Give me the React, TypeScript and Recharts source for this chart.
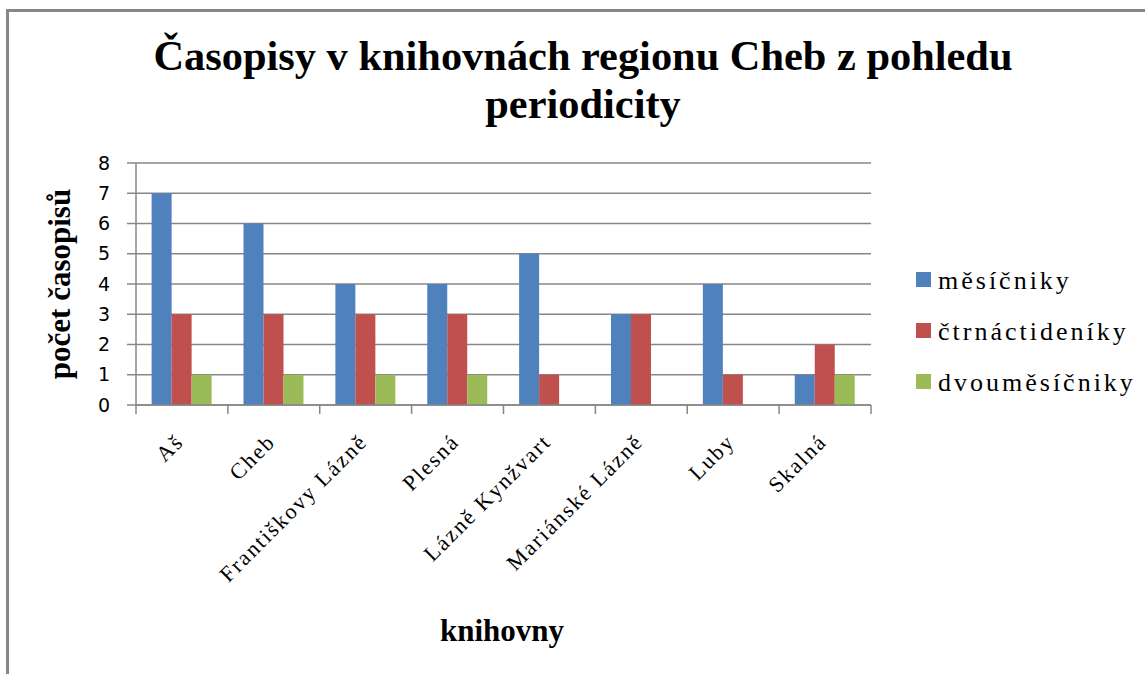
import React from 'react';
import { BarChart, Bar, XAxis, YAxis, CartesianGrid, Legend } from 'recharts';

const libraries = ['Aš', 'Cheb', 'Františkovy Lázně', 'Plesná', 'Lázně Kynžvart', 'Mariánské Lázně', 'Luby', 'Skalná'];
const mesicniky = [7, 6, 4, 4, 5, 3, 4, 1];
const ctrnactideniky = [3, 3, 3, 3, 1, 3, 1, 2];
const dvoumesicniky = [1, 1, 1, 1, 0, 0, 0, 1];
const yTicks = [0, 1, 2, 3, 4, 5, 6, 7, 8];

const SERIES = [
  { key: 'mesicniky', name: 'měsíčniky', color: '#4F81BD' },
  { key: 'ctrnactideniky', name: 'čtrnáctideníky', color: '#C0504D' },
  { key: 'dvoumesicniky', name: 'dvouměsíčniky', color: '#9BBB59' },
];

const data = libraries.map((name, i) => ({
  name,
  mesicniky: mesicniky[i],
  ctrnactideniky: ctrnactideniky[i],
  dvoumesicniky: dvoumesicniky[i],
}));

const GRAY = '#878787';
const SERIF = 'Liberation Serif, Times New Roman, serif';

// category label, rotated; also draws the tick marks on the category borders
const LibraryTick = (props: any) => {
  const { x, y, payload, index } = props;
  const half = payload.offset || 0;
  const ax = x + 3;
  const ay = y + 38;
  return (
    <g>
      <line x1={x - half} y1={y} x2={x - half} y2={y + 9} stroke={GRAY} strokeWidth={1.5} />
      {index === libraries.length - 1 && (
        <line x1={x + half} y1={y} x2={x + half} y2={y + 9} stroke={GRAY} strokeWidth={1.5} />
      )}
      <text
        x={ax}
        y={ay}
        transform={`rotate(-45, ${ax}, ${ay})`}
        textAnchor="end"
        fontFamily={SERIF}
        fontSize={22}
        letterSpacing={2}
        fill="#000"
      >
        {payload.value}
      </text>
    </g>
  );
};

const LegendContent = (props: any) => {
  const items = SERIES.map((s) => (props.payload || []).find((p: any) => p.value === s.name) || { value: s.name, color: s.color });
  return (
    <svg width={229} height={153}>
      {items.map((entry: any, i: number) => (
        <g key={entry.value}>
          <rect x={0} y={i * 51 + 18} width={15} height={15} fill={entry.color} />
          <text x={22} y={i * 51 + 35} fontFamily={SERIF} fontSize={26} letterSpacing={3} fill="#000">
            {entry.value}
          </text>
        </g>
      ))}
    </svg>
  );
};

export default function App() {
  return (
    <div style={{ position: 'absolute', left: 0, top: 0, width: 1145, height: 674, overflow: 'hidden', background: '#fff' }}>
      <div style={{ position: 'absolute', left: 6, top: 9, width: 1300, height: 900, border: `3px solid ${GRAY}` }} />
      <div style={{ position: 'absolute', left: 0, top: 0 }}>
        <BarChart
          width={1145}
          height={674}
          data={data}
          margin={{ top: 163, right: 274, bottom: 0, left: 0 }}
          barGap={0}
          barCategoryGap="17%"
        >
          <CartesianGrid vertical={false} stroke={GRAY} strokeWidth={1.5} />
          <XAxis
            dataKey="name"
            interval={0}
            tickLine={false}
            tickSize={0}
            tickMargin={0}
            axisLine={{ stroke: GRAY, strokeWidth: 1.5 }}
            tick={<LibraryTick />}
            height={269}
          />
          <YAxis
            domain={[0, 8]}
            ticks={yTicks}
            interval={0}
            width={136}
            tickSize={9}
            tickMargin={17}
            tickLine={{ stroke: GRAY, strokeWidth: 1.5 }}
            axisLine={{ stroke: GRAY, strokeWidth: 1.5 }}
            tick={{ fill: '#000', fontSize: 19, fontFamily: 'DejaVu Sans, sans-serif' }}
          />
          <Legend
            layout="vertical"
            align="center"
            verticalAlign="middle"
            content={<LegendContent />}
            wrapperStyle={{ left: 916, top: 254, width: 229 }}
          />
          {SERIES.map((s) => (
            <Bar key={s.key} dataKey={s.key} name={s.name} fill={s.color} isAnimationActive={false} />
          ))}
        </BarChart>
      </div>
      <svg width={1145} height={674} style={{ position: 'absolute', left: 0, top: 0, pointerEvents: 'none' }}>
        <text x={583} y={70} textAnchor="middle" fontFamily={SERIF} fontWeight="bold" fontSize={42.4} fill="#000">
          Časopisy v knihovnách regionu Cheb z pohledu
        </text>
        <text x={583} y={118} textAnchor="middle" fontFamily={SERIF} fontWeight="bold" fontSize={42.4} fill="#000">
          periodicity
        </text>
        <text x={70} y={284} transform="rotate(-90, 70, 284)" textAnchor="middle" fontFamily={SERIF} fontWeight="bold" fontSize={31} fill="#000">
          počet časopisů
        </text>
        <text x={502} y={641} textAnchor="middle" fontFamily={SERIF} fontWeight="bold" fontSize={31} fill="#000">
          knihovny
        </text>
      </svg>
    </div>
  );
}
